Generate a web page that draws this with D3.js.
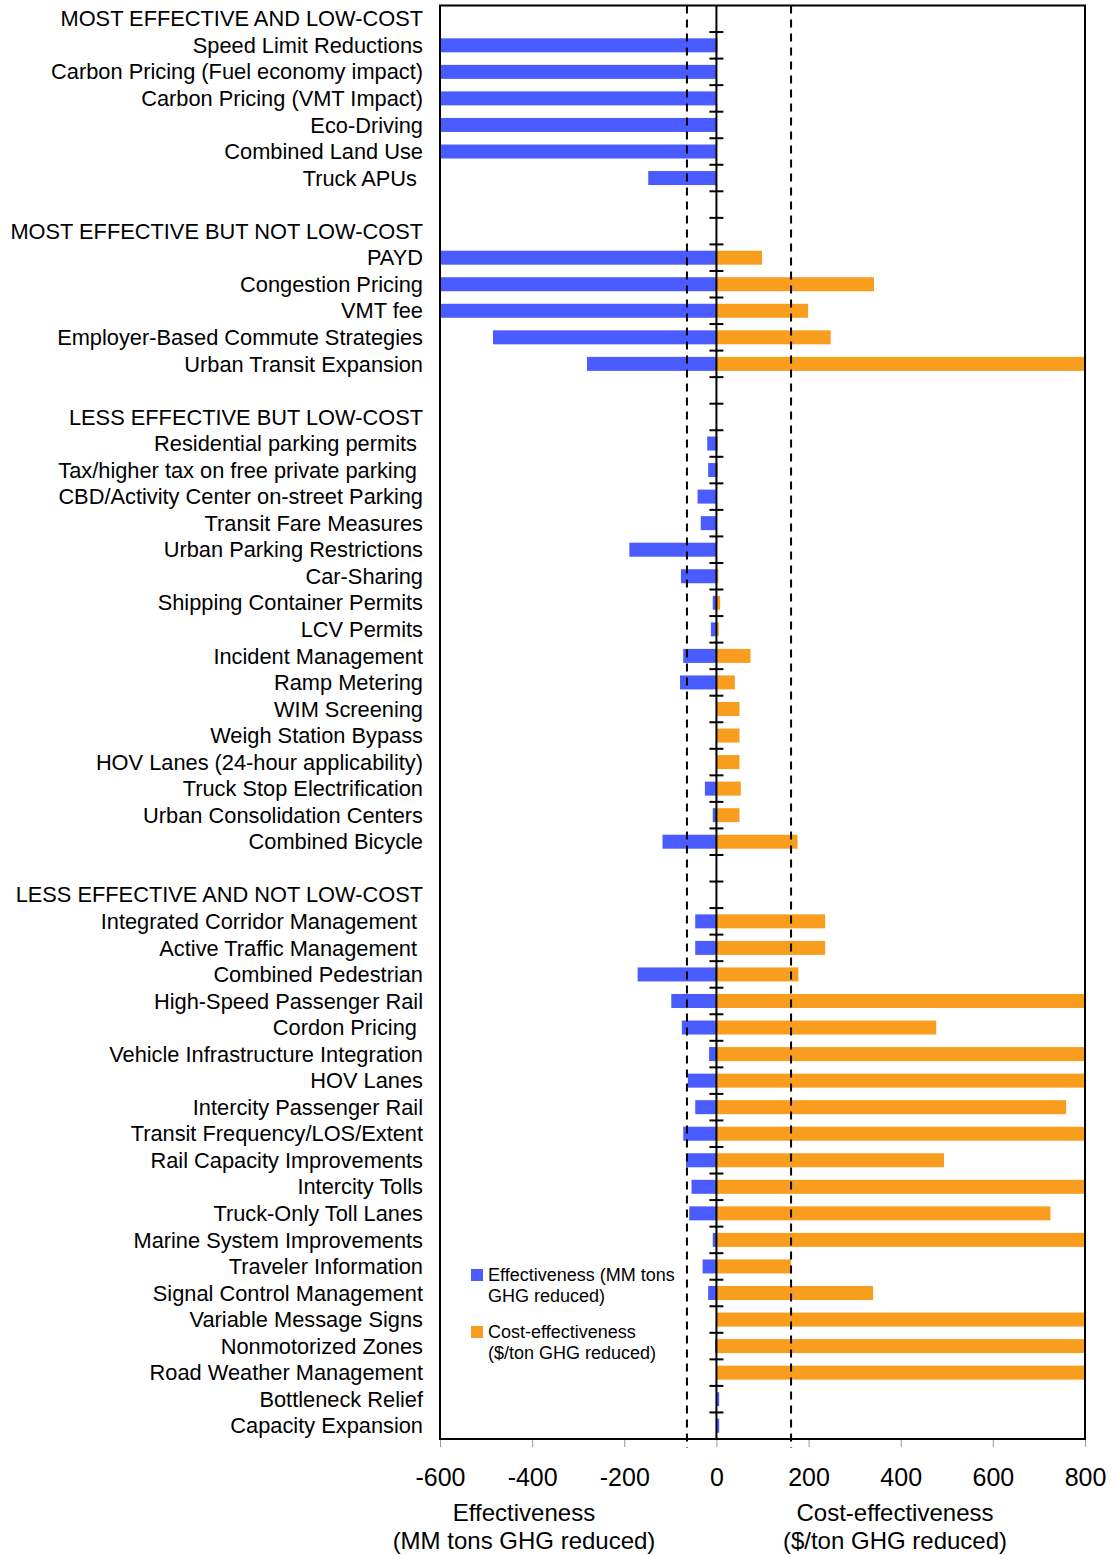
<!DOCTYPE html>
<html>
<head>
<meta charset="utf-8">
<script src="https://cdn.jsdelivr.net/npm/d3@7"></script>
<style>
  body { margin: 0; background: #fff; }
  text { font-family: "Liberation Sans", Arial, sans-serif; fill: #000; }
</style>
</head>
<body>
<svg width="1112" height="1555"></svg>
<script>
var groupNames = ["MOST EFFECTIVE AND LOW-COST", "MOST EFFECTIVE BUT NOT LOW-COST",
  "LESS EFFECTIVE BUT LOW-COST", "LESS EFFECTIVE AND NOT LOW-COST"];

var measures = [
  ["Speed Limit Reductions", "Carbon Pricing (Fuel economy impact)", "Carbon Pricing (VMT Impact)",
   "Eco-Driving", "Combined Land Use", "Truck APUs "],
  ["PAYD", "Congestion Pricing", "VMT fee", "Employer-Based Commute Strategies", "Urban Transit Expansion"],
  ["Residential parking permits ", "Tax/higher tax on free private parking ", "CBD/Activity Center on-street Parking",
   "Transit Fare Measures", "Urban Parking Restrictions", "Car-Sharing", "Shipping Container Permits",
   "LCV Permits", "Incident Management", "Ramp Metering", "WIM Screening", "Weigh Station Bypass",
   "HOV Lanes (24-hour applicability)", "Truck Stop Electrification", "Urban Consolidation Centers", "Combined Bicycle"],
  ["Integrated Corridor Management ", "Active Traffic Management ", "Combined Pedestrian",
   "High-Speed Passenger Rail", "Cordon Pricing ", "Vehicle Infrastructure Integration", "HOV Lanes",
   "Intercity Passenger Rail", "Transit Frequency/LOS/Extent", "Rail Capacity Improvements", "Intercity Tolls",
   "Truck-Only Toll Lanes", "Marine System Improvements", "Traveler Information", "Signal Control Management",
   "Variable Message Signs", "Nonmotorized Zones", "Road Weather Management", "Bottleneck Relief", "Capacity Expansion"]
];

// MM tons GHG reduced (negative = reduction), bars beyond -600 are cut at the frame
var effectiveness = [
  [-600, -600, -600, -600, -600, -148],
  [-600, -600, -600, -485, -281],
  [-20, -18, -41, -34, -189, -77, -8, -12, -72, -79, 0, 0, 0, -25, -8, -117],
  [-46, -46, -171, -98, -75, -16, -62, -46, -72, -66, -54, -59, -8, -30, -18, 0, -3, 0, 6, 6]
];

// $/ton GHG reduced, bars beyond 800 are cut at the frame
var costEffectiveness = [
  [3, 0, 0, 0, 0, 0],
  [99, 342, 199, 248, 800],
  [3, 3, 0, 0, 0, 4, 8, 5, 74, 40, 50, 50, 50, 53, 50, 176],
  [236, 236, 178, 800, 477, 800, 800, 759, 800, 494, 800, 725, 800, 162, 340, 800, 800, 800, 0, 0]
];

var xTicks = [-600, -400, -200, 0, 200, 400, 600, 800];
var thresholds = [-64, 162];
var legendItems = [
  {name: ["Effectiveness (MM tons", "GHG reduced)"], color: "#4a5bff"},
  {name: ["Cost-effectiveness", "($/ton GHG reduced)"], color: "#f99d1e"}
];

// flatten groups into rows: header, items, blank spacer
var rows = [];
groupNames.forEach(function(g, gi) {
  if (gi > 0) rows.push({type: "blank", label: ""});
  rows.push({type: "header", label: g});
  measures[gi].forEach(function(m, i) {
    rows.push({type: "item", label: m, eff: effectiveness[gi][i], cost: costEffectiveness[gi][i]});
  });
});
rows.forEach(function(r, i) { r.id = i; });

var svg = d3.select("svg"),
    plotL = 440, plotR = 1085, plotT = 5.5, plotB = 1439;

var x = d3.scaleLinear().domain([-600, 800]).range([plotL, plotR]).clamp(true);
var y = d3.scaleBand().domain(rows.map(function(r) { return r.id; })).range([plotT, plotB]);
var barH = 14;

var items = rows.filter(function(r) { return r.type === "item"; });

// effectiveness bars
svg.append("g").selectAll("rect")
  .data(items.filter(function(d) { return d.eff !== 0; }))
  .enter().append("rect")
    .attr("x", function(d) { return x(Math.min(0, d.eff)); })
    .attr("width", function(d) { return Math.abs(x(d.eff) - x(0)); })
    .attr("y", function(d) { return y(d.id) + y.bandwidth() / 2 - barH / 2; })
    .attr("height", barH)
    .style("fill", legendItems[0].color);

// cost-effectiveness bars
svg.append("g").selectAll("rect")
  .data(items.filter(function(d) { return d.cost !== 0; }))
  .enter().append("rect")
    .attr("x", function(d) { return x(Math.min(0, d.cost)); })
    .attr("width", function(d) { return Math.abs(x(d.cost) - x(0)); })
    .attr("y", function(d) { return y(d.id) + y.bandwidth() / 2 - barH / 2; })
    .attr("height", barH)
    .style("fill", legendItems[1].color);

// labels
svg.append("g").selectAll("text")
  .data(rows.filter(function(r) { return r.type !== "blank"; }))
  .enter().append("text")
    .attr("x", 423)
    .attr("y", function(d) { return y(d.id) + y.bandwidth() / 2; })
    .attr("dy", "0.35em")
    .attr("text-anchor", "end")
    .style("font-size", "21.8px")
    .style("white-space", "pre")
    .text(function(d) { return d.label; });

// bottom axis
var axis = svg.append("g")
    .attr("transform", "translate(0," + plotB + ")")
    .call(d3.axisBottom(x).tickValues(xTicks).tickSize(8).tickPadding(21)
      .tickFormat(function(d) { return String(d); }));
axis.select(".domain").remove();
axis.selectAll(".tick line").attr("stroke", "#999").attr("stroke-width", 1);
axis.selectAll(".tick text")
    .style("font-size", "25px")
    .style("font-family", "'Liberation Sans', Arial, sans-serif")
    .attr("fill", "#000");

// dashed thresholds
svg.append("g").selectAll("line")
  .data(thresholds)
  .enter().append("line")
    .attr("x1", function(d) { return x(d); }).attr("x2", function(d) { return x(d); })
    .attr("y1", plotT).attr("y2", plotB + 9)
    .attr("stroke", "#000").attr("stroke-width", 2)
    .attr("stroke-dasharray", "8,6");

// zero line with row ticks
svg.append("line")
    .attr("x1", x(0)).attr("x2", x(0))
    .attr("y1", plotT).attr("y2", plotB)
    .attr("stroke", "#000").attr("stroke-width", 2);
svg.append("g").selectAll("line")
  .data(rows.slice(1))
  .enter().append("line")
    .attr("x1", x(0) - 7).attr("x2", x(0) + 7)
    .attr("y1", function(d) { return y(d.id); })
    .attr("y2", function(d) { return y(d.id); })
    .attr("stroke", "#000").attr("stroke-width", 2);

// frame
svg.append("rect")
    .attr("x", plotL).attr("y", plotT)
    .attr("width", plotR - plotL).attr("height", plotB - plotT)
    .attr("fill", "none").attr("stroke", "#000").attr("stroke-width", 2);

// axis titles
var titles = [
  {x: 524, lines: ["Effectiveness", "(MM tons GHG reduced)"]},
  {x: 895, lines: ["Cost-effectiveness", "($/ton GHG reduced)"]}
];
titles.forEach(function(t) {
  svg.append("text")
      .attr("text-anchor", "middle")
      .style("font-size", "24px")
    .selectAll("tspan")
    .data(t.lines)
    .enter().append("tspan")
      .attr("x", t.x)
      .attr("y", function(d, i) { return 1521 + i * 28; })
      .text(function(d) { return d; });
});

// legend
var legend = svg.append("g").selectAll("g")
  .data(legendItems)
  .enter().append("g")
    .attr("transform", function(d, i) { return "translate(471," + (1269 + i * 57) + ")"; });
legend.append("rect")
    .attr("width", 12).attr("height", 12)
    .style("fill", function(d) { return d.color; });
legend.append("text")
    .style("font-size", "18px")
  .selectAll("tspan")
  .data(function(d) { return d.name; })
  .enter().append("tspan")
    .attr("x", 17)
    .attr("y", function(d, i) { return 12 + i * 21; })
    .text(function(d) { return d; });
</script>
</body>
</html>
